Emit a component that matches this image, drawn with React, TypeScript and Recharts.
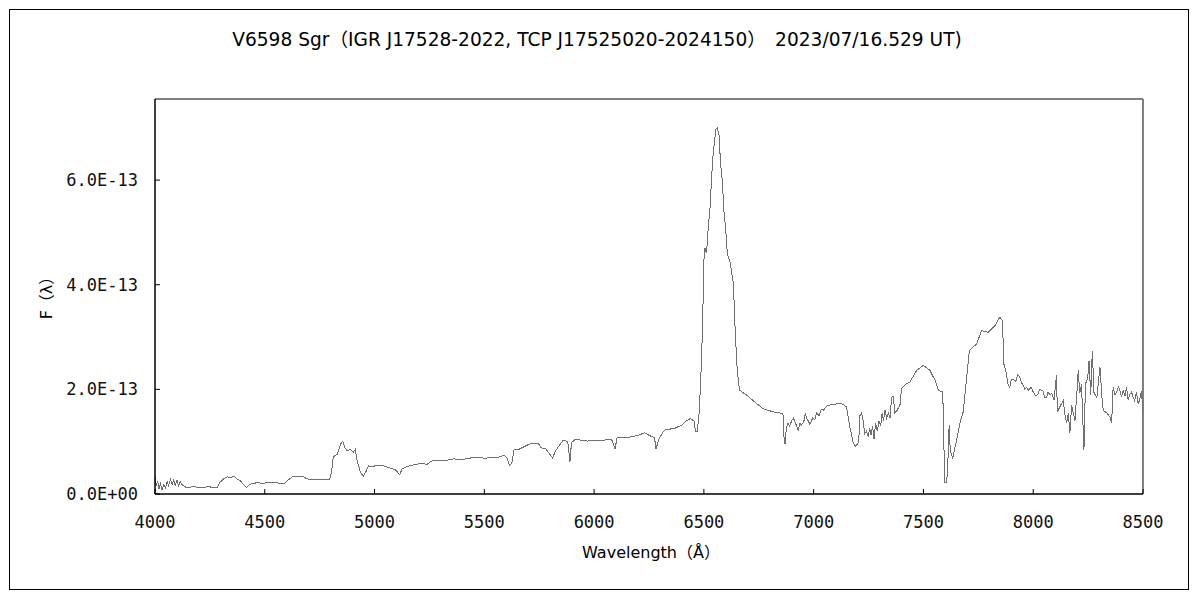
import React from 'react';
import { LineChart, Line, XAxis, YAxis, ReferenceLine } from 'recharts';

// wavelength in Angstrom, flux in units of 1E-13 (rows of 10 kept in step)
const wavelength = [
  4000, 4005, 4012, 4018, 4025, 4032, 4040, 4048, 4055, 4062,
  4070, 4078, 4085, 4092, 4100, 4108, 4115, 4125, 4140, 4160,
  4180, 4190, 4220, 4250, 4260, 4285, 4295, 4310, 4330, 4345,
  4360, 4375, 4390, 4405, 4417, 4430, 4445, 4470, 4490, 4510,
  4560, 4590, 4605, 4625, 4650, 4675, 4690, 4720, 4760, 4795,
  4805, 4812, 4830, 4845, 4855, 4863, 4875, 4890, 4903, 4912,
  4920, 4935, 4948, 4960, 4972, 4990, 5010, 5040, 5070, 5095,
  5115, 5125, 5150, 5180, 5210, 5240, 5260, 5290, 5320, 5360,
  5400, 5440, 5480, 5500, 5530, 5560, 5590, 5605, 5614, 5625,
  5635, 5660, 5693, 5715, 5745, 5760, 5780, 5795, 5811, 5825,
  5840, 5860, 5880, 5890, 5897, 5915, 5940, 5970, 6000, 6040,
  6080, 6095, 6105, 6150, 6200, 6230, 6260, 6275, 6282, 6295,
  6320, 6370, 6400, 6420, 6437, 6455, 6462, 6470, 6478, 6485,
  6494, 6500, 6505, 6512, 6520, 6528, 6535, 6543, 6555, 6561,
  6570, 6575, 6584, 6591, 6599, 6607, 6619, 6634, 6642, 6650,
  6659, 6664, 6695, 6740, 6770, 6816, 6860, 6866, 6870, 6875,
  6883, 6890, 6900, 6908, 6915, 6922, 6930, 6938, 6945, 6955,
  6962, 6968, 6975, 6983, 6995, 7005, 7013, 7025, 7035, 7044,
  7060, 7074, 7100, 7120, 7135, 7150, 7165, 7180, 7190, 7200,
  7205, 7211, 7218, 7226, 7232, 7240, 7248, 7255, 7262, 7268,
  7275, 7282, 7290, 7298, 7305, 7312, 7318, 7325, 7332, 7340,
  7348, 7355, 7363, 7370, 7380, 7393, 7400, 7420, 7438, 7469,
  7499, 7530, 7553, 7568, 7588, 7594, 7598, 7606, 7612, 7617,
  7622, 7633, 7651, 7666, 7681, 7697, 7709, 7742, 7765, 7795,
  7826, 7848, 7860, 7866, 7878, 7885, 7893, 7900, 7908, 7920,
  7930, 7939, 7948, 7955, 7962, 7969, 7980, 7990, 8000, 8010,
  8020, 8030, 8045, 8052, 8060, 8068, 8076, 8085, 8095, 8106,
  8110, 8125, 8137, 8145, 8152, 8160, 8167, 8175, 8190, 8200,
  8205, 8212, 8220, 8231, 8238, 8248, 8254, 8262, 8269, 8277,
  8290, 8304, 8312, 8319, 8335, 8350, 8357, 8364, 8372, 8380,
  8388, 8395, 8402, 8410, 8418, 8425, 8432, 8440, 8448, 8455,
  8462, 8470, 8478, 8485, 8493, 8500,
];

const flux = [
  0.33, 0.15, 0.25, 0.10, 0.20, 0.08, 0.18, 0.12, 0.24, 0.16,
  0.28, 0.18, 0.26, 0.17, 0.27, 0.15, 0.24, 0.17, 0.13, 0.13,
  0.15, 0.12, 0.13, 0.14, 0.12, 0.13, 0.22, 0.28, 0.33, 0.31,
  0.34, 0.28, 0.25, 0.17, 0.13, 0.18, 0.20, 0.22, 0.20, 0.22,
  0.21, 0.20, 0.26, 0.33, 0.33, 0.34, 0.29, 0.27, 0.27, 0.27,
  0.45, 0.71, 0.76, 0.95, 1.01, 0.90, 0.82, 0.85, 0.80, 0.85,
  0.65, 0.42, 0.34, 0.42, 0.54, 0.52, 0.55, 0.54, 0.50, 0.46,
  0.37, 0.48, 0.53, 0.56, 0.58, 0.57, 0.63, 0.65, 0.64, 0.67,
  0.66, 0.69, 0.70, 0.68, 0.70, 0.70, 0.74, 0.68, 0.55, 0.58,
  0.84, 0.86, 0.93, 0.97, 0.97, 0.88, 0.86, 0.78, 0.69, 0.83,
  0.92, 1.03, 1.00, 0.62, 0.98, 1.05, 1.03, 1.01, 1.03, 1.03,
  1.04, 0.86, 1.08, 1.08, 1.12, 1.17, 1.10, 1.08, 0.86, 1.05,
  1.22, 1.26, 1.32, 1.40, 1.44, 1.40, 1.19, 1.20, 1.54, 2.11,
  3.19, 4.46, 4.70, 4.60, 5.09, 5.47, 6.04, 6.55, 6.97, 7.00,
  6.84, 6.36, 5.98, 5.41, 5.09, 4.58, 4.43, 4.04, 3.19, 2.49,
  2.08, 1.98, 1.89, 1.73, 1.63, 1.57, 1.54, 1.00, 0.95, 1.25,
  1.35, 1.30, 1.40, 1.45, 1.38, 1.30, 1.22, 1.35, 1.32, 1.38,
  1.55, 1.45, 1.40, 1.33, 1.45, 1.42, 1.55, 1.50, 1.62, 1.60,
  1.68, 1.70, 1.72, 1.73, 1.71, 1.66, 1.28, 0.98, 0.91, 0.96,
  1.00, 1.50, 1.55, 1.40, 1.15, 1.20, 1.10, 1.25, 1.12, 1.30,
  1.05, 1.35, 1.20, 1.40, 1.30, 1.55, 1.40, 1.60, 1.45, 1.55,
  1.45, 1.85, 1.86, 1.55, 1.60, 1.70, 2.01, 2.10, 2.14, 2.36,
  2.46, 2.36, 2.17, 1.98, 1.95, 0.78, 0.22, 0.22, 0.70, 1.31,
  0.84, 0.68, 1.03, 1.35, 1.57, 2.23, 2.74, 2.87, 3.12, 3.09,
  3.22, 3.38, 3.31, 2.49, 2.30, 2.10, 2.04, 2.18, 2.20, 2.15,
  2.28, 2.23, 2.12, 2.08, 2.00, 2.04, 1.98, 2.05, 1.95, 1.88,
  1.90, 2.00, 1.97, 1.85, 1.84, 1.95, 1.89, 1.92, 1.80, 2.27,
  1.57, 1.70, 1.79, 1.50, 1.35, 1.55, 1.16, 1.70, 1.40, 2.00,
  2.36, 1.93, 2.10, 0.84, 2.11, 2.20, 2.55, 1.90, 2.74, 1.93,
  1.85, 2.43, 1.90, 1.60, 1.55, 1.47, 1.35, 2.04, 1.90, 1.95,
  2.05, 1.97, 1.85, 1.98, 1.88, 2.04, 1.80, 1.90, 1.95, 1.85,
  1.78, 1.95, 1.73, 1.80, 1.97, 1.54,
];

const xTicks = [4000, 4500, 5000, 5500, 6000, 6500, 7000, 7500, 8000, 8500];
const yTicks = [0, 2, 4, 6];
const yMax = 7.55;

const title = 'V6598 Sgr（IGR J17528-2022, TCP J17525020-2024150）　2023/07/16.529 UT)';
const labelFont = '"DejaVu Sans", "Noto Sans CJK JP", sans-serif';
const tickFont = '"DejaVu Sans Mono", "Liberation Mono", monospace';

const data = wavelength.map((w, i) => ({ wavelength: w, flux: flux[i] }));

const fmtY = (v: number) => (v === 0 ? '0.0E+00' : `${v.toFixed(1)}E-13`);

function XTick(props: any) {
  const { x, y, payload } = props;
  return (
    <g>
      <line x1={x} y1={y} x2={x} y2={y - 5} stroke="#000" />
      <text x={x} y={y + 34} textAnchor="middle" fontSize={17} fill="#111" fontFamily={tickFont}>
        {payload.value}
      </text>
    </g>
  );
}

function YTick(props: any) {
  const { x, y, payload } = props;
  return (
    <g>
      <line x1={x} y1={y} x2={x + 5} y2={y} stroke="#000" />
      <text x={x - 17} y={y + 6} textAnchor="end" fontSize={17} fill="#111" fontFamily={tickFont}>
        {fmtY(payload.value)}
      </text>
    </g>
  );
}

export default function App() {
  return (
    <div style={{ position: 'fixed', left: 0, top: 0, width: 1200, height: 600, background: '#fff' }}>
      <div style={{ position: 'absolute', left: 9, top: 9, width: 1180, height: 581, border: '1px solid #000', boxSizing: 'border-box' }} />
      <div style={{ position: 'absolute', left: 597, top: 24, transform: 'translateX(-50%)', whiteSpace: 'nowrap', fontSize: 18.6, color: '#000', fontFamily: labelFont }}>
        {title}
      </div>
      <div style={{ position: 'absolute', left: 45, top: 294, transform: 'translate(-50%, -50%) rotate(-90deg)', whiteSpace: 'nowrap', fontSize: 16, color: '#000', fontFamily: labelFont }}>
        F（λ）
      </div>
      <div style={{ position: 'absolute', left: 651, top: 551, transform: 'translate(-50%, -50%)', whiteSpace: 'nowrap', fontSize: 16, color: '#000', fontFamily: labelFont }}>
        Wavelength（Å）
      </div>
      <div style={{ position: 'absolute', left: 0, top: 0 }}>
        <LineChart width={1200} height={600} data={data} margin={{ top: 99, right: 57, bottom: 76, left: 95 }}>
          <XAxis
            dataKey="wavelength"
            type="number"
            domain={[4000, 8500]}
            ticks={xTicks}
            interval={0}
            height={30}
            tickSize={0}
            tickMargin={0}
            tick={<XTick />}
            axisLine={{ stroke: '#000', strokeWidth: 1.5 }}
            allowDataOverflow
          />
          <YAxis
            type="number"
            domain={[0, yMax]}
            ticks={yTicks}
            width={60}
            tickSize={0}
            tickMargin={0}
            tick={<YTick />}
            axisLine={{ stroke: '#000', strokeWidth: 1.5 }}
            allowDataOverflow
          />
          <ReferenceLine y={yMax} stroke="#808080" strokeWidth={2} />
          <ReferenceLine x={8500} stroke="#808080" strokeWidth={2} />
          <Line
            type="linear"
            dataKey="flux"
            stroke="#707070"
            strokeWidth={1}
            dot={false}
            shapeRendering="crispEdges"
            isAnimationActive={false}
          />
        </LineChart>
      </div>
    </div>
  );
}
